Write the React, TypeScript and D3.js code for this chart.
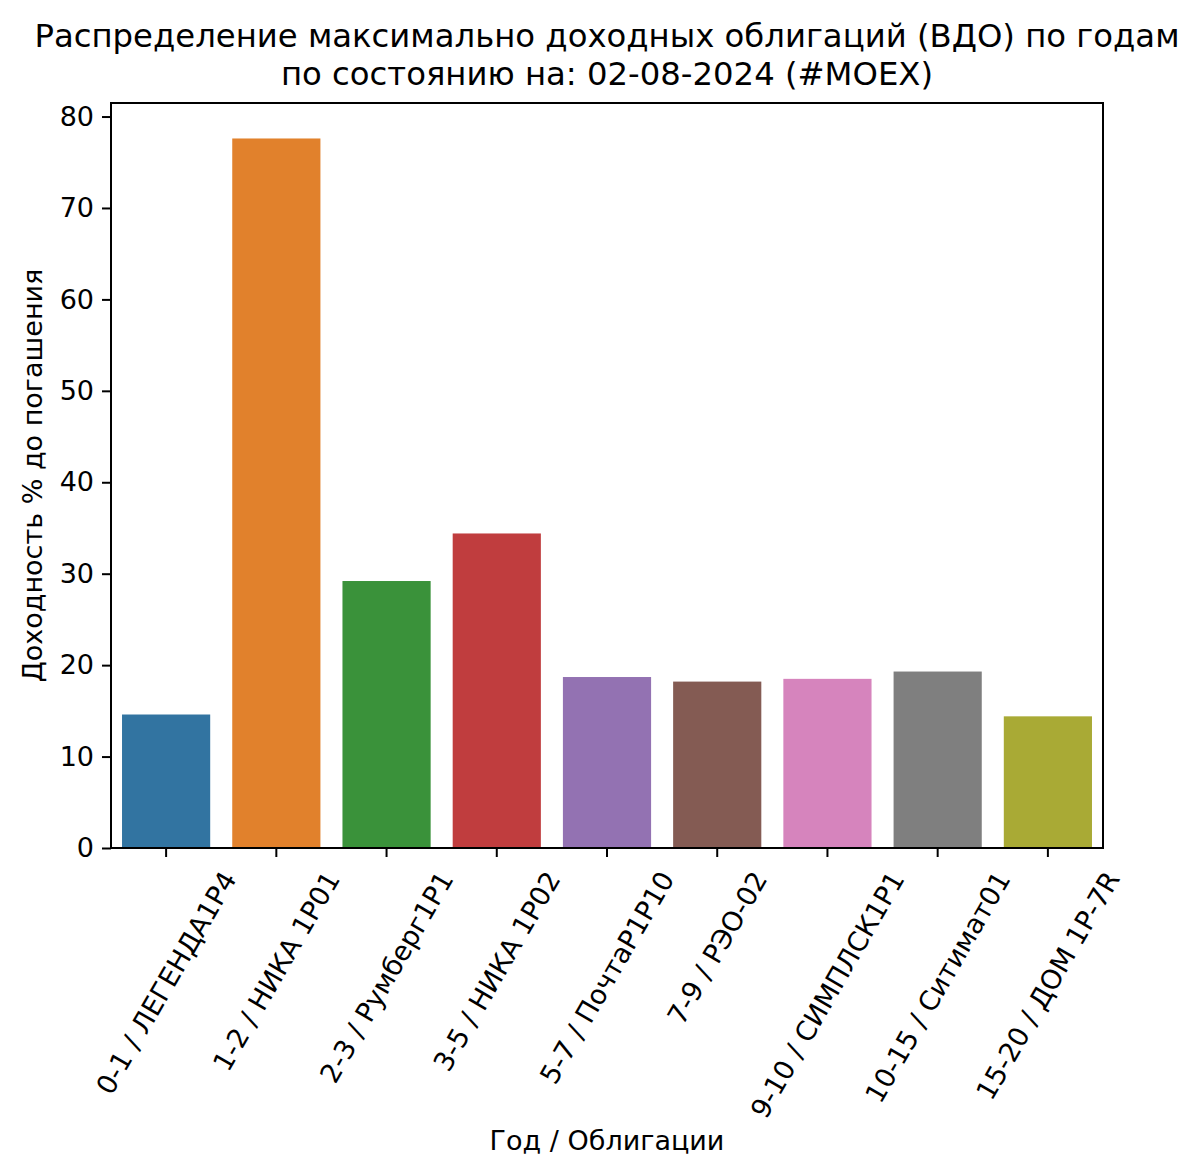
import { useEffect, useRef } from "react";
import * as d3 from "d3";

const categories = [
  "0-1 / ЛЕГЕНДА1Р4",
  "1-2 / НИКА 1Р01",
  "2-3 / Румберг1Р1",
  "3-5 / НИКА 1Р02",
  "5-7 / ПочтаР1Р10",
  "7-9 / РЭО-02",
  "9-10 / СИМПЛСК1Р1",
  "10-15 / Ситимат01",
  "15-20 / ДОМ 1Р-7R",
];
const yields = [14.6, 77.6, 29.2, 34.4, 18.7, 18.2, 18.5, 19.3, 14.4];
const barColors = [
  "#3274a1",
  "#e1812c",
  "#3a923a",
  "#c03d3e",
  "#9372b2",
  "#845b53",
  "#d684bd",
  "#7f7f7f",
  "#a9aa35",
];
const yTicks = [0, 10, 20, 30, 40, 50, 60, 70, 80];
const titleLines = [
  "Распределение максимально доходных облигаций (ВДО) по годам",
  "по состоянию на: 02-08-2024 (#MOEX)",
];

const FONT = "'DejaVu Sans', sans-serif";

const App = () => {
  const chartRef = useRef<SVGSVGElement>(null);

  useEffect(() => {
    const width = 1199;
    const height = 1176;
    const left = 111;
    const right = 1103;
    const top = 103;
    const bottom = 848;
    const tickFont = 27;
    const tickLen = 9;

    const svg = d3.select(chartRef.current);
    svg.selectAll("*").remove();
    svg.attr("width", width).attr("height", height);

    const xScale = d3
      .scaleBand()
      .domain(categories)
      .range([left, right])
      .paddingInner(0.2)
      .paddingOuter(0.1);

    const yScale = d3
      .scaleLinear()
      .domain([0, d3.max(yields)! * 1.05])
      .range([bottom, top]);

    // bars
    svg
      .append("g")
      .selectAll("rect")
      .data(yields)
      .join("rect")
      .attr("x", (_, i) => xScale(categories[i])!)
      .attr("y", (d) => yScale(d))
      .attr("width", xScale.bandwidth())
      .attr("height", (d) => yScale(0) - yScale(d))
      .attr("fill", (_, i) => barColors[i]);

    // y axis
    svg
      .append("g")
      .attr("transform", `translate(${left},0)`)
      .call(
        d3
          .axisLeft(yScale)
          .tickValues(yTicks)
          .tickSize(tickLen)
          .tickPadding(8)
          .tickFormat(d3.format("d") as never),
      )
      .call((g) => {
        g.select(".domain").remove();
        g.selectAll("line").attr("stroke", "#000").attr("stroke-width", 2);
        g.selectAll("text")
          .attr("font-family", FONT)
          .attr("font-size", tickFont)
          .attr("fill", "#000");
      });

    // x axis ticks
    const xAxis = svg
      .append("g")
      .attr("transform", `translate(0,${bottom})`)
      .call(d3.axisBottom(xScale).tickSize(tickLen).tickFormat(() => ""))
      .call((g) => {
        g.select(".domain").remove();
        g.selectAll("line").attr("stroke", "#000").attr("stroke-width", 2);
      });

    // rotated x labels, bbox centred on tick, top under the tick
    const angle = (60 * Math.PI) / 180;
    const lineH = tickFont * 1.16;
    xAxis
      .append("g")
      .selectAll("text")
      .data(categories)
      .join("text")
      .attr("font-family", FONT)
      .attr("font-size", tickFont)
      .attr("fill", "#000")
      .attr("text-anchor", "middle")
      .attr("dominant-baseline", "central")
      .text((d) => d)
      .attr("transform", function (d) {
        const len = (this as SVGTextElement).getComputedTextLength();
        const bboxH = len * Math.sin(angle) + lineH * Math.cos(angle);
        const cx = xScale(d)! + xScale.bandwidth() / 2;
        const cy = tickLen + 9 + bboxH / 2;
        return `translate(${cx},${cy}) rotate(-60)`;
      });

    // frame
    svg
      .append("rect")
      .attr("x", left)
      .attr("y", top)
      .attr("width", right - left)
      .attr("height", bottom - top)
      .attr("fill", "none")
      .attr("stroke", "#000")
      .attr("stroke-width", 2);

    // title
    svg
      .append("text")
      .attr("font-family", FONT)
      .attr("font-size", 32.3)
      .attr("fill", "#000")
      .attr("text-anchor", "middle")
      .selectAll("tspan")
      .data(titleLines)
      .join("tspan")
      .attr("x", (left + right) / 2)
      .attr("y", (_, i) => 47 + i * 38)
      .text((d) => d);

    // axis titles
    svg
      .append("text")
      .attr("font-family", FONT)
      .attr("font-size", tickFont)
      .attr("fill", "#000")
      .attr("text-anchor", "middle")
      .attr("x", (left + right) / 2)
      .attr("y", 1150)
      .text("Год / Облигации");

    svg
      .append("text")
      .attr("font-family", FONT)
      .attr("font-size", tickFont)
      .attr("fill", "#000")
      .attr("text-anchor", "middle")
      .attr("transform", `translate(42,${(top + bottom) / 2}) rotate(-90)`)
      .text("Доходность % до погашения");

    return () => {
      d3.select(chartRef.current).selectAll("*").remove();
    };
  }, []);

  return (
    <svg
      ref={chartRef}
      style={{ position: "absolute", left: 0, top: 0, background: "#fff" }}
    ></svg>
  );
};

export default App;
